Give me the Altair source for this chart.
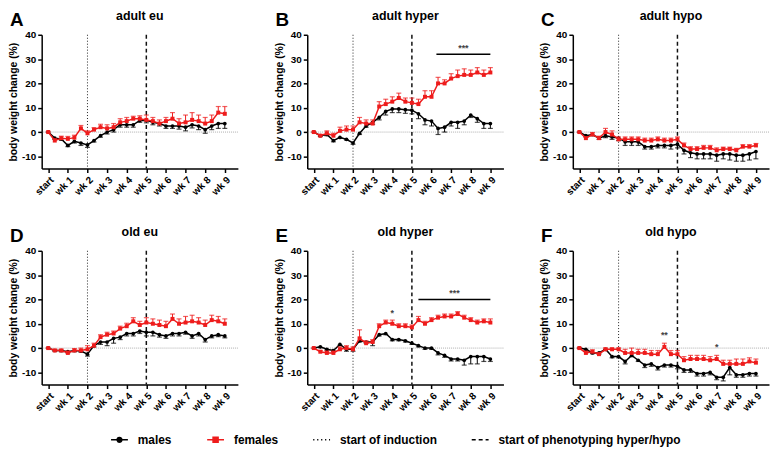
import altair as alt
import pandas as pd

# ---------------- data ----------------
idx = list(range(28))  # 3 measurements per week, start .. wk 9
tick_vals = [0, 3, 6, 9, 12, 15, 18, 21, 24, 27]
induction_at = [6]
phenotyping_at = [15]

A_m = [0,-2.5,-2.8,-5.5,-3.8,-4.5,-5.3,-3.5,-1.5,0,1,3,3,3,4.8,4.8,4,3.5,2.5,2.5,2.5,2,3,2.5,1,2.5,3.5,3.5]
A_f = [0,-3.5,-2.5,-2.8,-2.3,1.5,-0.5,1,2,1.5,2,4,4.5,5.5,5.5,5,4.5,3.5,4.5,5.5,3.5,4,5,4.5,3.5,4.5,8,7.5]
A_me = [0,0.5,0.6,0.5,0.7,1,1,0.6,0.6,0.8,1,1,1,1,0.8,1,1,1,1,1,1.3,1.5,1.3,1.5,1.5,1.5,2,2]
A_fe = [0,0.8,0.8,1,1,1.2,1,0.8,1.2,1.5,1.5,1.5,1.5,1,1.2,2,1.5,1.5,1.5,2.5,2,3,3,2.5,2.5,2.5,2.5,3]

B_m = [0,-1.5,-1,-3.5,-2.2,-3,-4.5,-0.5,2.5,4,6,8.5,9.5,9.5,9.2,9,7.5,5,4.5,1.5,2,4,4,4.5,7,5.5,3.5,3.5]
B_f = [0,-1.5,-0.5,-1.5,0.5,1,1,4,3.5,3.5,10.5,11.5,12.5,14,12.5,12,11.5,14.5,14.5,20,20,22,23,23.5,23.5,24.5,23.5,24.5]
B_me = [0,0.3,0.5,0.5,0.3,0.3,0.5,0.5,0.5,0.8,1,1.5,1.5,1.5,1.5,1.5,2,2,2,2.5,2,1.5,2.5,1.5,1,1.5,2,2]
B_fe = [0,0.5,1,1,1.5,1.5,1.5,2,1.5,1.5,2,2,2,2,1.5,2,2,2.5,2.5,2.5,1.5,2,2.5,2.5,2,2,2,2]

C_m = [0,-1.5,-1,-2.5,-1.5,-2,-2.5,-4,-4,-4,-6,-6,-5.5,-5.5,-5.5,-5,-7.5,-8.5,-9,-9,-9,-9.5,-9,-9,-9.5,-9.5,-9,-8]
C_f = [0,-2.5,-1,-2.5,0,-1,-3,-3,-3,-3,-3.5,-3.5,-3,-3.5,-3.5,-3,-5.5,-7,-7,-6.5,-6.5,-7.5,-7,-7,-7.5,-6,-6,-5.5]
C_me = [0,0.5,0.5,0.5,0.8,1,1,1.5,1.5,1.5,1,1,1,1,1.5,1.5,1.5,2,2,2,2,2.5,2,2.5,2.5,2.5,2.5,3]
C_fe = [0,0.5,0.8,0.8,1.5,1.5,1,1,1,1,1,1,1,1,1,1,1,1,1,1,1,1,0.8,0.8,0.8,0.8,0.8,0.8]

D_m = [0,-1,-1,-1.5,-1,-1.2,-2.5,1,2.5,2.5,4,4.5,6,6,7,6.5,6.5,5.5,5,6,6,6.5,5,6,3.5,5,5.5,5]
D_f = [0,-1,-1,-2,-1,-1,-0.5,1,4.5,5.5,6,8,9,11,9.5,10.5,10,9.5,9,12,10,10.5,11,10.5,9.5,11.5,11,10]
D_me = [0,0.3,0.5,0.5,0.5,0.5,0.8,0.5,1,1.5,2,1,1,1,1,1.5,1.5,1,1,1,1,0.8,1,1,1,0.8,0.8,0.8]
D_fe = [0,0.5,0.5,0.8,0.8,1,1.5,1,1,1,1,1,1.2,1.5,1.5,2,2,2,2,2,2,2.5,2.5,2,2,2,2,2]

E_m = [0,0.5,-0.5,-1,1.5,-0.5,-0.5,3,2.5,2.5,5.5,6,3.5,3.5,3,2,1,0,0,-2,-3,-4.5,-4.5,-5,-3.5,-3.5,-3.5,-4.5]
E_f = [0,-1.5,-2,-2,-0.5,0,-0.5,4,2,2.5,9,10.5,10,9,9,8.5,11.5,10,11.5,12.5,13,13,14,12.5,11.5,10.5,11,10.5]
E_me = [0,0.3,0.3,0.3,0.3,0.8,0.8,0.5,0.5,1.5,0.5,0.5,0.5,0.5,0.5,0.5,0.5,0.5,0.5,0.8,0.8,0.8,0.8,2,3,3,2,1]
E_fe = [0,0.5,0.8,0.8,1,1,1,3.5,1,1,1,1,1.5,1,1,1,1.5,1,1,1,1,1,1,1,1,1,1,1.5]

F_m = [0,-0.5,-2,-2,-0.5,-3.5,-3.5,-5.5,-3,-5,-7,-6.5,-8,-7,-7,-7.5,-9,-9,-10.5,-10.5,-10,-12,-12,-8,-11,-11,-10.5,-10.5]
F_f = [0,-2,-1.5,-2.5,-0.5,-0.5,-0.5,-2,-2,-2,-2,-2.5,-2.5,0.5,-2.5,-2.5,-5,-4.5,-4.5,-4.5,-5,-4.5,-6.5,-6.5,-6.5,-6.5,-5.5,-6]
F_me = [0,0.3,0.3,0.5,0.3,0.5,0.5,1,0.5,0.5,1,1,1,0.8,0.8,1,1,1,1,1,1,1,1.5,3,1,1,1,1]
F_fe = [0,0.8,0.8,0.5,0.5,0.5,0.5,1.5,2,1.5,1.5,1.5,1.5,1.5,1.5,1.5,1.5,1.5,1.5,1.5,1.5,1.5,1.5,1.5,2,2,1.5,1.5]

# significance bars: (x start, x end, y, label)
B_sig = [(18.75, 27, 32, "***")]
E_sig = [(16, 27, 20, "***")]
# single asterisks: (x, y, label)
E_stars = [(12, 12.5, "*")]
F_stars = [(13, 3.5, "**"), (21, -1.5, "*")]

series_names = ["males", "females", "start of induction", "start of phenotyping hyper/hypo"]

RED = "#ee1c1c"
FONT = "Liberation Sans"
W, H = 198, 135


def X(field):
    return alt.X(f"{field}:Q",
                 scale=alt.Scale(domain=[-1, 29], nice=False, zero=False),
                 axis=alt.Axis(values=tick_vals, title=None, labelAngle=-45, labelOverlap=False,
                               labelAlign="right", labelBaseline="top",
                               labelExpr="datum.value == 0 ? 'start' : 'wk ' + (datum.value / 3)"))


def Y(field):
    return alt.Y(f"{field}:Q",
                 scale=alt.Scale(domain=[-15, 40], nice=False, zero=False),
                 axis=alt.Axis(values=[-10, 0, 10, 20, 30, 40], title="body weight change (%)",
                               labelOverlap=False, labelExpr="'' + datum.value"))


def panel(letter, title, m, f, me, fe, sig=(), stars=()):
    df = pd.DataFrame({"i": idx, "m": m, "f": f,
                       "m_lo": [a - b for a, b in zip(m, me)],
                       "f_hi": [a + b for a, b in zip(f, fe)]})
    base = alt.Chart(df)
    zero = alt.Chart(pd.DataFrame({"y": [0]})).mark_rule(
        color="#9a9a9a", strokeDash=[1, 1], strokeWidth=0.8).encode(y=Y("y"))
    v1 = alt.Chart(pd.DataFrame({"x": induction_at})).mark_rule(
        color="#222", strokeDash=[1, 2], strokeWidth=1).encode(x=X("x"))
    v2 = alt.Chart(pd.DataFrame({"x": phenotyping_at})).mark_rule(
        color="#111", strokeDash=[4, 3], strokeWidth=1.5).encode(x=X("x"))
    m_err = base.mark_rule(color="black", strokeWidth=1).encode(x=X("i"), y=Y("m"), y2="m_lo")
    m_cap = base.mark_tick(color="black", orient="horizontal", size=5, thickness=1.2).encode(x=X("i"), y=Y("m_lo"))
    m_line = base.mark_line(color="black", strokeWidth=1.5).encode(x=X("i"), y=Y("m"))
    m_pts = base.mark_point(color="black", filled=True, shape="circle", size=14, opacity=1).encode(x=X("i"), y=Y("m"))
    f_err = base.mark_rule(color=RED, strokeWidth=1).encode(x=X("i"), y=Y("f"), y2="f_hi")
    f_cap = base.mark_tick(color=RED, orient="horizontal", size=5, thickness=1.2).encode(x=X("i"), y=Y("f_hi"))
    f_line = base.mark_line(color=RED, strokeWidth=1.5).encode(x=X("i"), y=Y("f"))
    f_pts = base.mark_point(color=RED, filled=True, shape="square", size=16, opacity=1).encode(x=X("i"), y=Y("f"))
    layers = [zero, v1, v2, m_err, m_cap, m_line, m_pts, f_err, f_cap, f_line, f_pts]
    if sig:
        sdf = pd.DataFrame({"x0": [s[0] for s in sig], "x1": [s[1] for s in sig],
                            "y": [s[2] for s in sig], "lab": [s[3] for s in sig],
                            "xm": [(s[0] + s[1]) / 2 for s in sig]})
        layers.append(alt.Chart(sdf).mark_rule(color="black", strokeWidth=1.5).encode(
            x=X("x0"), x2="x1", y=Y("y")))
        layers.append(alt.Chart(sdf).mark_text(color="#444", fontSize=9, baseline="bottom", dy=-1,
                                               font=FONT, fontWeight="bold").encode(
            x=X("xm"), y=Y("y"), text="lab"))
    if stars:
        tdf = pd.DataFrame({"x": [s[0] for s in stars], "y": [s[1] for s in stars],
                            "lab": [s[2] for s in stars]})
        layers.append(alt.Chart(tdf).mark_text(color="#444", fontSize=9, baseline="bottom",
                                               font=FONT, fontWeight="bold").encode(
            x=X("x"), y=Y("y"), text="lab"))
    lab = alt.Chart(pd.DataFrame({"t": [letter]})).mark_text(
        fontSize=19, fontWeight="bold", font=FONT, align="left", baseline="top", color="black"
    ).encode(x=alt.value(-32), y=alt.value(-24), text="t")
    ttl = alt.Chart(pd.DataFrame({"t": [title]})).mark_text(
        fontSize=12.5, fontWeight="bold", font=FONT, align="center", baseline="alphabetic", color="black"
    ).encode(x=alt.value(W / 2), y=alt.value(-15), text="t")
    layers += [lab, ttl]
    return alt.layer(*layers).properties(width=W, height=H)


pA = panel("A", "adult eu", A_m, A_f, A_me, A_fe)
pB = panel("B", "adult hyper", B_m, B_f, B_me, B_fe, sig=B_sig)
pC = panel("C", "adult hypo", C_m, C_f, C_me, C_fe)
pD = panel("D", "old eu", D_m, D_f, D_me, D_fe)
pE = panel("E", "old hyper", E_m, E_f, E_me, E_fe, sig=E_sig, stars=E_stars)
pF = panel("F", "old hypo", F_m, F_f, F_me, F_fe, stars=F_stars)

shapes = ["M-1,0H1M-0.28,0A0.28,0.28 0 1,0 0.28,0A0.28,0.28 0 1,0 -0.28,0",
          "M-1,0H1M-0.3,-0.3H0.3V0.3H-0.3Z",
          "M-1,0H1",
          "M-1,0H1"]
colors = ["black", RED, "black", "black"]
dashes = [[1, 0], [1, 0], [1.2, 2.8], [4, 3]]

legend_df = pd.DataFrame({"series": series_names})
leg = alt.Legend(title=None, orient="none", legendX=69, legendY=0, direction="horizontal",
                 columns=4, columnPadding=32, symbolSize=289, symbolStrokeWidth=1.5,
                 symbolOpacity=1, padding=0, labelLimit=0,
                 labelFont=FONT, labelFontSize=12, labelFontWeight="bold", labelColor="black",
                 labelOffset=9)
legend_chart = alt.Chart(legend_df).transform_filter("false").mark_point(filled=True, opacity=1).encode(
    fill=alt.Fill("series:N", scale=alt.Scale(domain=series_names, range=colors), legend=leg),
    stroke=alt.Stroke("series:N", scale=alt.Scale(domain=series_names, range=colors), legend=leg),
    shape=alt.Shape("series:N", scale=alt.Scale(domain=series_names, range=shapes), legend=leg),
    strokeDash=alt.StrokeDash("series:N", scale=alt.Scale(domain=series_names, range=dashes), legend=leg),
).properties(width=700, height=1)

grid = alt.vconcat(
    alt.hconcat(pA, pB, pC, spacing=35),
    alt.hconcat(pD, pE, pF, spacing=35),
    spacing=29,
)
chart = alt.vconcat(grid, legend_chart, spacing=17).resolve_legend(
    fill="independent", stroke="independent", shape="independent", strokeDash="independent"
).properties(padding=0).configure_view(
    stroke=None
).configure_axis(
    domainColor="black", domainWidth=1.5, tickColor="black", tickWidth=1.5, tickSize=4,
    labelFont=FONT, labelFontSize=10, labelFontWeight="bold", labelColor="black",
    titleFont=FONT, titleFontSize=10.5, titleFontWeight="bold", titleColor="black",
    grid=False, labelPadding=2, titlePadding=3
)

chart.save("out.html", embed_options={"renderer": "svg", "actions": False})
